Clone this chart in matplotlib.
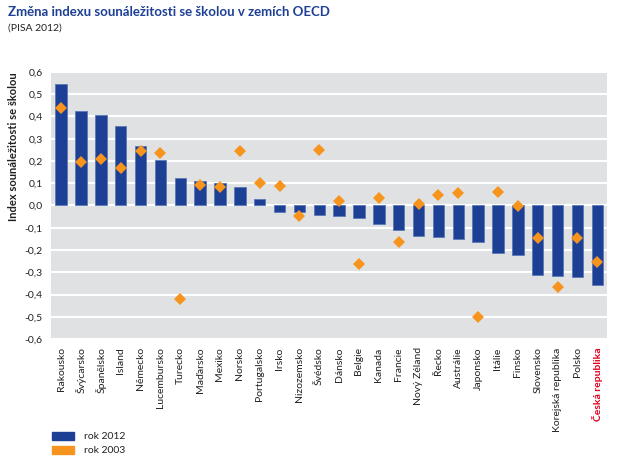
import matplotlib
matplotlib.use("Agg")
import matplotlib.pyplot as plt
from matplotlib.patches import Rectangle
from matplotlib.ticker import FuncFormatter, MultipleLocator

plt.rcParams['font.family'] = ['Lato', 'DejaVu Sans']

countries = ["Rakousko", "Švýcarsko", "Španělsko", "Island", "Německo", "Lucembursko",
             "Turecko", "Maďarsko", "Mexiko", "Norsko", "Portugalsko", "Irsko",
             "Nizozemsko", "Švédsko", "Dánsko", "Belgie", "Kanada", "Francie",
             "Nový Zéland", "Řecko", "Austrálie", "Japonsko", "Itálie", "Finsko",
             "Slovensko", "Korejská republika", "Polsko", "Česká republika"]
values_2012 = [0.548, 0.425, 0.407, 0.356, 0.268, 0.204, 0.123, 0.111, 0.100, 0.084,
               0.030, -0.027, -0.031, -0.043, -0.045, -0.054, -0.085, -0.108, -0.139,
               -0.141, -0.151, -0.162, -0.214, -0.222, -0.313, -0.319, -0.322, -0.358]
values_2003 = [0.439, 0.196, 0.208, 0.169, 0.243, 0.234, -0.419, 0.090, 0.085, 0.243,
               0.102, 0.088, -0.046, 0.251, 0.022, -0.265, 0.033, -0.166, 0.007,
               0.048, 0.054, -0.499, 0.060, -0.004, -0.145, -0.367, -0.148, -0.254]
legend_labels = ["rok 2012", "rok 2003"]
title = "Změna indexu sounáležitosti se školou v zemích OECD"
subtitle = "(PISA 2012)"
ylabel = "Index sounáležitosti se školou"

blue = "#1d3f94"
orange = "#f7941d"
red = "#e3001b"

fig = plt.figure(figsize=(6.2, 4.61), dpi=100)
ax = fig.add_axes([51/620, 1-339/461, (607-51)/620, (339-72)/461])
ax.set_facecolor("#e0e1e3")
x = list(range(len(countries)))
ax.bar(x, values_2012, width=0.57, color=blue, edgecolor="#5a78b8", linewidth=0.6, zorder=3)
ax.plot(x, values_2003, linestyle="none", marker="D", markersize=6.5, color=orange,
        markeredgewidth=0, zorder=4)
ax.set_ylim(-0.6, 0.6)
ax.set_xlim(-0.51, len(countries) - 0.51)
ax.yaxis.set_major_locator(MultipleLocator(0.1))
ax.yaxis.set_major_formatter(FuncFormatter(lambda v, p: f"{v:.1f}".replace(".", ",").replace("-0,0", "0,0")))
ax.grid(axis="y", color="white", linewidth=1.5, zorder=1)
ax.set_axisbelow(True)
for s in ax.spines.values():
    s.set_visible(False)
ax.tick_params(axis="both", length=0, labelsize=7.5, colors="#231f20")
ax.tick_params(axis="y", pad=6)
ax.set_xticks(x)
ax.set_xticklabels(countries, rotation=90, fontsize=7.5)
ax.tick_params(axis="x", pad=6)
lbl = ax.get_xticklabels()[-1]
lbl.set_color(red)
lbl.set_fontweight("bold")

fig.text(14/620, 1-72/461, ylabel, fontsize=8, fontweight="bold", color="#231f20",
         rotation=90, va="top", ha="center")

fig.text(8/620, 1-12/461, title, fontsize=9.5, fontweight="bold", color=blue, va="center")
fig.text(8/620, 1-28/461, subtitle, fontsize=7.5, color="#231f20", va="center")

for i, (lab, col) in enumerate(zip(legend_labels, [blue, orange])):
    y0 = 432 + i * 14
    fig.add_artist(Rectangle((52/620, 1-(y0+8)/461), 22/620, 8/461, color=col,
                             transform=fig.transFigure))
    fig.text(84/620, 1-(y0+4)/461, lab, fontsize=7.5, color="#231f20", va="center")

fig.savefig("out.png", dpi=100)
